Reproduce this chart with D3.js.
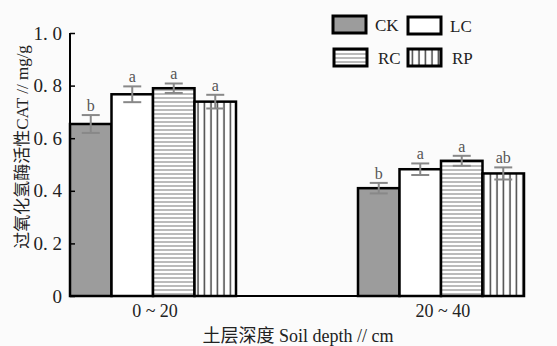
<!DOCTYPE html>
<html>
<head>
<meta charset="utf-8">
<script src="https://cdn.jsdelivr.net/npm/d3@7"></script>
<style>
  body{margin:0;background:#fbfbfb;}
  text{font-family:"Liberation Serif","Noto Sans CJK SC",serif;}
</style>
</head>
<body>
<svg id="chart" width="557" height="346"></svg>
<script>
// depth groups and treatments
var depths = ["0～20", "20～40"]
var treatments = ["CK", "LC", "RC", "RP"]
// CAT activity (mg/g), one array per treatment, in depth order
var ckValues = [0.654, 0.41]
var lcValues = [0.767, 0.482]
var rcValues = [0.79, 0.514]
var rpValues = [0.739, 0.466]
// standard errors
var ckErrors = [0.034, 0.02]
var lcErrors = [0.03, 0.022]
var rcErrors = [0.018, 0.019]
var rpErrors = [0.026, 0.023]
// significance letters
var ckLetters = ["b", "b"]
var lcLetters = ["a", "a"]
var rcLetters = ["a", "a"]
var rpLetters = ["a", "ab"]
var yTicks = [0, 0.2, 0.4, 0.6, 0.8, 1.0]
var yTickLabels = ["0", "0. 2", "0. 4", "0. 6", "0. 8", "1. 0"]

var values = {CK: ckValues, LC: lcValues, RC: rcValues, RP: rpValues}
var errors = {CK: ckErrors, LC: lcErrors, RC: rcErrors, RP: rpErrors}
var letters = {CK: ckLetters, LC: lcLetters, RC: rcLetters, RP: rpLetters}

var svg = d3.select("#chart")
var plotLeft = 70, plotRight = 524, plotTop = 33, plotBottom = 296

var x0 = d3.scaleBand().domain(depths).range([plotLeft, plotRight]).paddingInner(0.4236).paddingOuter(0)
var x1 = d3.scaleBand().domain(treatments).range([0, x0.bandwidth()])
var y = d3.scaleLinear().domain([0, 1]).range([plotBottom, plotTop])

// patterns
var defs = svg.append("defs")
var hp = defs.append("pattern").attr("id", "horiz").attr("patternUnits", "userSpaceOnUse")
  .attr("width", 8).attr("height", 4)
hp.append("rect").attr("width", 8).attr("height", 4).attr("fill", "#fff")
hp.append("line").attr("x1", 0).attr("x2", 8).attr("y1", 2).attr("y2", 2)
  .attr("stroke", "#777").attr("stroke-width", 1)
var vp = defs.append("pattern").attr("id", "vert").attr("patternUnits", "userSpaceOnUse")
  .attr("width", 6.5).attr("height", 8)
vp.append("rect").attr("width", 6.5).attr("height", 8).attr("fill", "#fff")
vp.append("line").attr("x1", 3).attr("x2", 3).attr("y1", 0).attr("y2", 8)
  .attr("stroke", "#444").attr("stroke-width", 1.5)

var fills = {CK: "#9c9c9c", LC: "#ffffff", RC: "url(#horiz)", RP: "url(#vert)"}

// bars
var rows = []
depths.forEach(function(d, i){
  treatments.forEach(function(t){
    rows.push({depth: d, t: t, v: values[t][i], e: errors[t][i], l: letters[t][i]})
  })
})

var g = svg.append("g")
g.selectAll("rect.bar").data(rows).enter().append("rect")
  .attr("class", "bar")
  .attr("x", function(d){ return x0(d.depth) + x1(d.t) })
  .attr("y", function(d){ return y(d.v) })
  .attr("width", x1.bandwidth())
  .attr("height", function(d){ return plotBottom - y(d.v) })
  .attr("fill", function(d){ return fills[d.t] })
  .attr("stroke", "#000").attr("stroke-width", 2.5)

// error bars
var eb = g.selectAll("g.err").data(rows).enter().append("g")
  .attr("class", "err")
  .attr("transform", function(d){ return "translate(" + (x0(d.depth) + x1(d.t) + x1.bandwidth() / 2) + ",0)" })
eb.append("line").attr("y1", function(d){ return y(d.v + d.e) }).attr("y2", function(d){ return y(d.v - d.e) })
  .attr("stroke", "#888").attr("stroke-width", 2)
eb.append("line").attr("x1", -9).attr("x2", 9)
  .attr("y1", function(d){ return y(d.v + d.e) }).attr("y2", function(d){ return y(d.v + d.e) })
  .attr("stroke", "#888").attr("stroke-width", 2)
eb.append("line").attr("x1", -9).attr("x2", 9)
  .attr("y1", function(d){ return y(d.v - d.e) }).attr("y2", function(d){ return y(d.v - d.e) })
  .attr("stroke", "#888").attr("stroke-width", 2)
eb.append("text").attr("text-anchor", "middle")
  .attr("y", function(d){ return y(d.v + d.e) - 4 })
  .attr("font-size", 16).attr("fill", "#555")
  .text(function(d){ return d.l })

// axes
var yAxis = d3.axisLeft(y).tickValues(yTicks).tickSize(-5).tickPadding(8)
  .tickFormat(function(d, i){ return yTickLabels[i] })
var ya = svg.append("g").attr("transform", "translate(" + plotLeft + ",0)").call(yAxis)
  .attr("font-family", "Liberation Serif, serif").attr("font-size", 19)
ya.select(".domain").remove()
ya.selectAll(".tick line").attr("stroke", "#000").attr("stroke-width", 1.5)
ya.selectAll("text").attr("fill", "#222")
  .style("font-family", "Liberation Serif, serif").style("font-weight", "normal")

svg.append("line").attr("x1", plotLeft).attr("x2", plotLeft).attr("y1", plotTop).attr("y2", plotBottom)
  .attr("stroke", "#000").attr("stroke-width", 2)
svg.append("line").attr("x1", plotLeft - 1).attr("x2", plotRight).attr("y1", plotBottom).attr("y2", plotBottom)
  .attr("stroke", "#000").attr("stroke-width", 2)

svg.selectAll("text.xlab").data(depths).enter().append("text")
  .attr("class", "xlab")
  .attr("x", function(d){ return x0(d) + x0.bandwidth() / 2 + 2 })
  .attr("y", 317).attr("text-anchor", "middle").attr("font-size", 18).attr("fill", "#222")
  .text(function(d){ return d.replace("～", " ~ ") })

svg.append("text").attr("x", 298).attr("y", 342).attr("text-anchor", "middle")
  .attr("font-size", 18).attr("fill", "#222")
  .text("土层深度 Soil depth // cm")

svg.append("text").attr("transform", "translate(28,147) rotate(-90)")
  .attr("text-anchor", "middle").attr("font-size", 17).attr("fill", "#222")
  .text("过氧化氢酶活性CAT // mg/g")

// legend
var legendPos = [[333, 16, 375], [408, 17, 450], [334, 49, 378], [408, 49, 452]]
var lg = svg.selectAll("g.leg").data(treatments).enter().append("g").attr("class", "leg")
lg.append("rect")
  .attr("x", function(d, i){ return legendPos[i][0] })
  .attr("y", function(d, i){ return legendPos[i][1] })
  .attr("width", 33).attr("height", 17)
  .attr("fill", function(d){ return fills[d] })
  .attr("stroke", "#000").attr("stroke-width", 3)
lg.append("text")
  .attr("x", function(d, i){ return legendPos[i][2] })
  .attr("y", function(d, i){ return legendPos[i][1] + 15 })
  .attr("font-size", 17).attr("fill", "#222")
  .text(function(d){ return d })
</script>
</body>
</html>
